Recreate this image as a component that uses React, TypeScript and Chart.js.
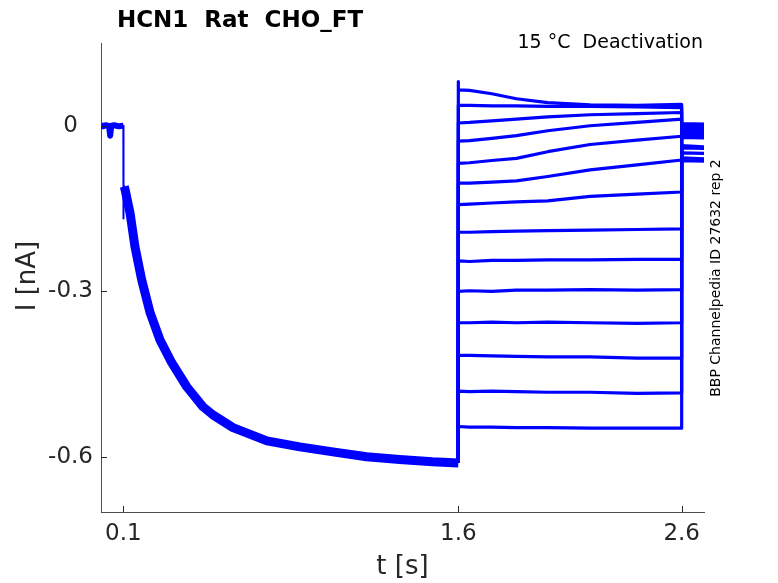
import React, { useEffect, useRef } from 'react';
import { Chart, registerables } from 'chart.js';

Chart.register(...registerables);

// --- data (t in s, I in nA) ---
const holdT = [0, 0.01, 0.02, 0.03, 0.037, 0.041, 0.046, 0.06, 0.08, 0.1];
const holdI = [0.002, -0.001, 0.001, 0.0, -0.004, -0.018, 0.0, 0.001, -0.001, 0.0];

// capacitive step at 0.1 s
const onsetT = [0.1, 0.1, 0.1015, 0.104];
const onsetI = [0.0, -0.168, -0.12, -0.108];

// activation, all sweeps overlap here
const actT = [0.104, 0.108, 0.13, 0.152, 0.182, 0.22, 0.264, 0.316, 0.384, 0.456, 0.501, 0.591, 0.743, 0.89, 1.038, 1.189, 1.337, 1.484, 1.6];
const actI = [-0.11, -0.116, -0.158, -0.219, -0.279, -0.339, -0.388, -0.429, -0.473, -0.509, -0.524, -0.547, -0.571, -0.582, -0.591, -0.6, -0.605, -0.609, -0.611];

// deactivation steps
const deactT = [1.6, 1.65, 1.75, 1.86, 2.0, 2.19, 2.4, 2.6];
const sweepA = [0.065, 0.064, 0.058, 0.049, 0.042, 0.038, 0.037, 0.039];
const sweepB = [0.037, 0.037, 0.036, 0.036, 0.035, 0.035, 0.034, 0.033];
const sweepC = [0.005, 0.006, 0.009, 0.012, 0.016, 0.02, 0.022, 0.024];
const sweepD = [-0.028, -0.027, -0.023, -0.018, -0.009, 0.0, 0.006, 0.012];
const sweepE = [-0.068, -0.067, -0.063, -0.059, -0.047, -0.034, -0.026, -0.019];
const sweepF = [-0.104, -0.104, -0.102, -0.1, -0.092, -0.08, -0.071, -0.062];
const sweepG = [-0.143, -0.142, -0.14, -0.138, -0.136, -0.128, -0.124, -0.12];
const sweepH = [-0.193, -0.193, -0.192, -0.191, -0.19, -0.189, -0.188, -0.187];
const sweepI = [-0.245, -0.246, -0.244, -0.244, -0.243, -0.243, -0.242, -0.242];
const sweepJ = [-0.3, -0.299, -0.3, -0.298, -0.298, -0.297, -0.298, -0.297];
const sweepK = [-0.357, -0.357, -0.356, -0.357, -0.356, -0.357, -0.358, -0.357];
const sweepL = [-0.416, -0.416, -0.417, -0.418, -0.419, -0.419, -0.421, -0.421];
const sweepM = [-0.481, -0.482, -0.481, -0.482, -0.483, -0.483, -0.485, -0.484];
const sweepN = [-0.545, -0.546, -0.546, -0.547, -0.547, -0.548, -0.548, -0.548];
const sweeps = [sweepA, sweepB, sweepC, sweepD, sweepE, sweepF, sweepG, sweepH, sweepI, sweepJ, sweepK, sweepL, sweepM, sweepN];

// onset peak of each step (only the first sweep overshoots)
const stepPeak = [0.08, 0.037, 0.005, -0.028, -0.068, -0.104, -0.143, -0.193, -0.245, -0.3, -0.357, -0.416, -0.481, -0.545];

// tail back at holding
const tailT = [2.6, 2.7];
const tailStart = [0.004, 0.001, -0.003, -0.008, -0.012, -0.017, -0.021, -0.002, -0.006, -0.036, -0.049, -0.058, -0.063, -0.04];
const tailEnd = [0.003, 0.0, -0.004, -0.009, -0.013, -0.018, -0.022, -0.003, -0.007, -0.038, -0.05, -0.06, -0.064, -0.041];

const xTicks = [0.1, 1.6, 2.6];
const xTickLabels = ['0.1', '1.6', '2.6'];
const yTicks = [-0.6, -0.3, 0];
const yTickLabels = ['-0.6', '-0.3', '0'];

const BLUE = '#0000ff';
const TEXT = '#262626';
const FONT = '"DejaVu Sans", sans-serif';

const toPoints = (ts: number[], vs: number[]) => ts.map((t, i) => ({ x: t, y: vs[i] }));

// titles, annotations and inward tick marks (MATLAB style)
const decorPlugin = {
  id: 'decor',
  afterDraw(chart: any) {
    const { ctx, chartArea, scales } = chart;
    ctx.save();
    ctx.strokeStyle = TEXT;
    ctx.lineWidth = 1;
    xTicks.forEach((v) => {
      const px = Math.round(scales.x.getPixelForValue(v)) + 0.5;
      ctx.beginPath();
      ctx.moveTo(px, chartArea.bottom);
      ctx.lineTo(px, chartArea.bottom - 6);
      ctx.stroke();
    });
    yTicks.forEach((v) => {
      const py = Math.round(scales.y.getPixelForValue(v)) + 0.5;
      ctx.beginPath();
      ctx.moveTo(chartArea.left, py);
      ctx.lineTo(chartArea.left + 6, py);
      ctx.stroke();
    });

    ctx.fillStyle = '#000';
    ctx.font = `bold 23px ${FONT}`;
    ctx.textAlign = 'center';
    ctx.textBaseline = 'alphabetic';
    ctx.fillText('HCN1  Rat  CHO_FT', 240, 27);

    ctx.font = `19px ${FONT}`;
    ctx.textAlign = 'right';
    ctx.fillText('15 °C  Deactivation', 703, 48);

    ctx.fillStyle = TEXT;
    ctx.font = `26px ${FONT}`;
    ctx.textAlign = 'center';
    ctx.textBaseline = 'middle';
    ctx.fillText('t [s]', (chartArea.left + chartArea.right) / 2, 567);

    ctx.save();
    ctx.translate(28, 276);
    ctx.rotate(-Math.PI / 2);
    ctx.fillText('I [nA]', 0, 0);
    ctx.restore();

    ctx.fillStyle = '#000';
    ctx.save();
    ctx.translate(716, 278);
    ctx.rotate(-Math.PI / 2);
    ctx.font = `14px ${FONT}`;
    ctx.fillText('BBP Channelpedia ID 27632 rep 2', 0, 0);
    ctx.restore();

    ctx.restore();
  },
};

const App: React.FC = () => {
  const canvasRef = useRef<HTMLCanvasElement>(null);

  useEffect(() => {
    document.body.style.margin = '0';
    if (!canvasRef.current) return;

    const line = (data: any[], width: number) => ({
      data,
      borderColor: BLUE,
      backgroundColor: BLUE,
      borderWidth: width,
      pointRadius: 0,
      fill: false,
      tension: 0,
      borderJoinStyle: 'round' as const,
    });

    const sweepSets = sweeps.map((vals, i) =>
      line(
        [
          { x: 1.6, y: actI[actI.length - 1] },
          { x: 1.6, y: stepPeak[i] },
          ...toPoints(deactT, vals),
          { x: tailT[0], y: tailStart[i] },
          { x: tailT[1], y: tailEnd[i] },
        ],
        3.2
      )
    );

    const chart = new Chart(canvasRef.current, {
      type: 'line',
      data: {
        datasets: [
          line(toPoints(holdT, holdI), 6),
          line(toPoints(onsetT, onsetI), 2),
          line(toPoints(actT, actI), 9),
          ...sweepSets,
        ],
      },
      options: {
        responsive: false,
        animation: false,
        devicePixelRatio: 1,
        layout: { padding: { top: 43, right: 74, left: 0, bottom: 0 } },
        plugins: { legend: { display: false }, tooltip: { enabled: false } },
        scales: {
          x: {
            type: 'linear',
            min: 0,
            max: 2.7,
            afterBuildTicks: (s: any) => {
              s.ticks = xTicks.map((v) => ({ value: v }));
            },
            afterFit: (s: any) => {
              s.height = 71;
            },
            ticks: {
              autoSkip: false,
              maxRotation: 0,
              padding: 8,
              color: TEXT,
              font: { family: FONT, size: 23 },
              callback: (v: any) => xTickLabels[xTicks.indexOf(Number(v))],
            },
            grid: { display: false, drawTicks: false },
            border: { display: true, color: '#4d4d4d', width: 1 },
          },
          y: {
            type: 'linear',
            min: -0.7,
            max: 0.15,
            afterBuildTicks: (s: any) => {
              s.ticks = yTicks.map((v) => ({ value: v }));
            },
            afterFit: (s: any) => {
              s.width = 101;
            },
            ticks: {
              autoSkip: false,
              crossAlign: 'center',
              padding: 8,
              color: TEXT,
              font: { family: FONT, size: 23 },
              callback: (v: any) => yTickLabels[yTicks.indexOf(Number(v))],
            },
            grid: { display: false, drawTicks: false },
            border: { display: true, color: '#4d4d4d', width: 1 },
          },
        },
      },
      plugins: [decorPlugin],
    });

    return () => chart.destroy();
  }, []);

  return (
    <div style={{ width: 778, height: 583, background: '#fff' }}>
      <canvas ref={canvasRef} width={778} height={583} style={{ display: 'block' }} />
    </div>
  );
};

export default App;
